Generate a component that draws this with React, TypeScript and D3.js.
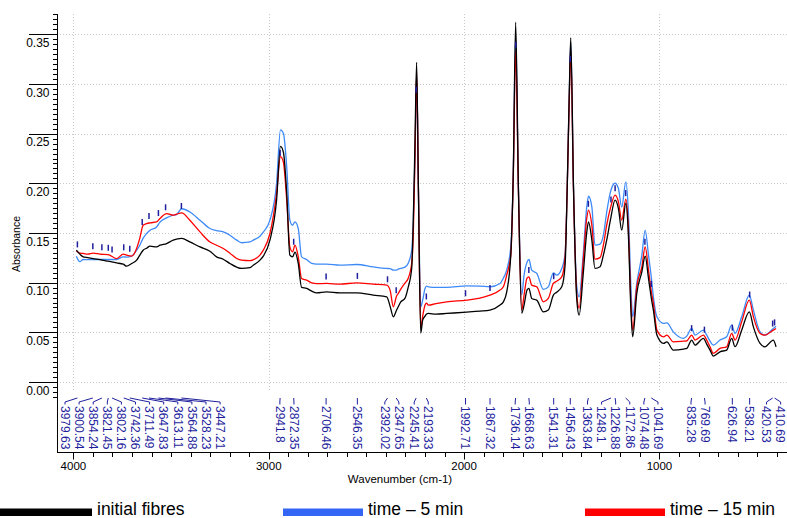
import React from 'react';
import * as d3 from 'd3';

// ---- data (wavenumber in cm-1, absorbance) ----
const wavenumbers = [
  3985, 3967, 3950, 3926, 3899, 3864, 3823, 3779, 3745, 3728,
  3702, 3676, 3660, 3643, 3625, 3608, 3574, 3557, 3523, 3489,
  3472, 3446, 3404, 3352, 3301, 3267, 3233, 3199, 3164, 3139,
  3096, 3079, 3045, 3028, 2994, 2960, 2940, 2925, 2908, 2892,
  2878, 2866, 2849, 2832, 2806, 2780, 2755, 2704, 2636, 2550,
  2465, 2396, 2379, 2362, 2346, 2337, 2325, 2303, 2286, 2268,
  2260, 2251, 2243, 2234, 2222, 2212, 2200, 2192, 2183, 2144,
  2089, 1987, 1919, 1868, 1816, 1799, 1782, 1761, 1748, 1736,
  1722, 1705, 1693, 1678, 1668, 1654, 1628, 1594, 1569, 1543,
  1526, 1500, 1483, 1472, 1461, 1454, 1440, 1423, 1411, 1390,
  1372, 1363, 1346, 1330, 1304, 1287, 1270, 1251, 1227, 1210,
  1193, 1172, 1159, 1146, 1137, 1116, 1090, 1073, 1056, 1040,
  1031, 1013, 979, 962, 929, 877, 860, 835, 818, 775,
  758, 741, 724, 690, 656, 630, 613, 579, 540, 519, 485, 460,
  417, 403,
];

const initialFibres = [
  0.1327, 0.1287, 0.1260, 0.1252, 0.1241, 0.1233, 0.1216, 0.1199, 0.1186, 0.1166,
  0.1193, 0.1226, 0.1277, 0.1327, 0.1347, 0.1367, 0.1360, 0.1377, 0.1394, 0.1428,
  0.1438, 0.1445, 0.1410, 0.1360, 0.1317, 0.1260, 0.1236, 0.1193, 0.1156, 0.1143,
  0.1151, 0.1176, 0.1227, 0.1267, 0.1428, 0.1830, 0.2373, 0.2313, 0.1897, 0.1277,
  0.1260, 0.1307, 0.1193, 0.0952, 0.0942, 0.0914, 0.0897, 0.0907, 0.0897, 0.0897,
  0.0874, 0.0857, 0.0764, 0.0656, 0.0723, 0.0757, 0.0804, 0.0841, 0.0955, 0.1150,
  0.1629, 0.2467, 0.3218, 0.1964, 0.0492, 0.0623, 0.0663, 0.0684, 0.0690, 0.0683,
  0.0690, 0.0703, 0.0713, 0.0723, 0.0774, 0.0807, 0.0904, 0.1277, 0.2132, 0.3621,
  0.1964, 0.0693, 0.0774, 0.0925, 0.0942, 0.0841, 0.0824, 0.0706, 0.0724, 0.0874,
  0.0904, 0.0958, 0.1176, 0.1964, 0.2970, 0.3465, 0.1964, 0.0824, 0.0673, 0.1093,
  0.1508, 0.1612, 0.1428, 0.1143, 0.1160, 0.1277, 0.1428, 0.1629, 0.1830, 0.1746,
  0.1528, 0.1800, 0.1478, 0.0723, 0.0455, 0.0891, 0.1109, 0.1267, 0.1042, 0.0824,
  0.0723, 0.0472, 0.0388, 0.0404, 0.0321, 0.0331, 0.0338, 0.0422, 0.0371, 0.0439,
  0.0381, 0.0321, 0.0261, 0.0304, 0.0321, 0.0439, 0.0355, 0.0522, 0.0706, 0.0555, 0.0388, 0.0354,
  0.0422, 0.0354,
];

const time5min = [
  0.1267, 0.1211, 0.1233, 0.1231, 0.1233, 0.1233, 0.1233, 0.1233, 0.1260, 0.1257,
  0.1267, 0.1327, 0.1377, 0.1448, 0.1495, 0.1528, 0.1561, 0.1609, 0.1652, 0.1679,
  0.1686, 0.1744, 0.1712, 0.1629, 0.1545, 0.1523, 0.1511, 0.1478, 0.1428, 0.1402,
  0.1410, 0.1428, 0.1468, 0.1509, 0.1629, 0.1998, 0.2539, 0.2504, 0.2165, 0.1629,
  0.1578, 0.1612, 0.1545, 0.1260, 0.1233, 0.1193, 0.1186, 0.1186, 0.1176, 0.1183,
  0.1159, 0.1143, 0.1141, 0.1126, 0.1126, 0.1136, 0.1143, 0.1156, 0.1196, 0.1330,
  0.1629, 0.2300, 0.3098, 0.1964, 0.0757, 0.0824, 0.0942, 0.0965, 0.0958, 0.0952,
  0.0952, 0.0968, 0.0965, 0.0958, 0.0992, 0.1045, 0.1126, 0.1360, 0.2132, 0.3490,
  0.1964, 0.0875, 0.1076, 0.1206, 0.1233, 0.1126, 0.1093, 0.0932, 0.0958, 0.1099,
  0.1076, 0.1143, 0.1294, 0.1964, 0.2937, 0.3420, 0.1964, 0.0958, 0.0857, 0.1294,
  0.1763, 0.1870, 0.1763, 0.1377, 0.1387, 0.1478, 0.1709, 0.1911, 0.2001, 0.1948,
  0.1760, 0.2014, 0.1709, 0.0958, 0.0656, 0.0995, 0.1277, 0.1528, 0.1277, 0.1025,
  0.0857, 0.0656, 0.0590, 0.0596, 0.0505, 0.0439, 0.0462, 0.0539, 0.0472, 0.0522,
  0.0472, 0.0411, 0.0371, 0.0422, 0.0455, 0.0572, 0.0489, 0.0656, 0.0874, 0.0723, 0.0505, 0.0472,
  0.0539, 0.0562,
];

const time15min = [
  0.1322, 0.1297, 0.1294, 0.1287, 0.1297, 0.1287, 0.1282, 0.1243, 0.1287, 0.1277,
  0.1267, 0.1347, 0.1448, 0.1578, 0.1594, 0.1602, 0.1612, 0.1646, 0.1696, 0.1679,
  0.1689, 0.1702, 0.1629, 0.1511, 0.1410, 0.1377, 0.1344, 0.1297, 0.1243, 0.1226,
  0.1221, 0.1231, 0.1277, 0.1327, 0.1495, 0.1897, 0.2268, 0.2212, 0.1830, 0.1360,
  0.1310, 0.1377, 0.1260, 0.1042, 0.1025, 0.0998, 0.0990, 0.0992, 0.0985, 0.0998,
  0.0985, 0.0975, 0.0925, 0.0757, 0.0864, 0.0891, 0.0932, 0.0995, 0.1045, 0.1200,
  0.1495, 0.2300, 0.3118, 0.1964, 0.0543, 0.0663, 0.0774, 0.0794, 0.0774, 0.0789,
  0.0807, 0.0824, 0.0844, 0.0874, 0.0925, 0.0958, 0.1075, 0.1277, 0.2082, 0.3339,
  0.1931, 0.0724, 0.0875, 0.1045, 0.1058, 0.0975, 0.0958, 0.0807, 0.0841, 0.0992,
  0.1015, 0.1058, 0.1260, 0.1964, 0.2886, 0.3339, 0.1931, 0.0875, 0.0744, 0.1226,
  0.1649, 0.1731, 0.1579, 0.1236, 0.1252, 0.1377, 0.1579, 0.1750, 0.1881, 0.1813,
  0.1629, 0.1840, 0.1548, 0.0791, 0.0522, 0.0958, 0.1159, 0.1360, 0.1126, 0.0891,
  0.0794, 0.0522, 0.0455, 0.0472, 0.0404, 0.0411, 0.0414, 0.0472, 0.0422, 0.0472,
  0.0422, 0.0354, 0.0288, 0.0338, 0.0354, 0.0489, 0.0422, 0.0606, 0.0824, 0.0656, 0.0489, 0.0472,
  0.0522, 0.0539,
];

const peakLabels = [
  3979.63, 3900.54, 3854.24, 3821.45, 3802.16, 3742.36, 3711.49, 3647.83, 3613.11,
  3564.88, 3528.23, 3447.21, 2941.8, 2872.35, 2706.46, 2546.35, 2392.02, 2347.65,
  2245.41, 2193.33, 1992.71, 1867.32, 1736.14, 1668.63, 1541.31, 1456.43, 1363.84,
  1248.1, 1226.88, 1172.86, 1074.48, 1041.69, 835.28, 769.69, 626.94, 538.21,
  420.53, 410.69,
];

const yTicks = [0, 0.05, 0.1, 0.15, 0.2, 0.25, 0.3, 0.35];
const xTicks = [4000, 3000, 2000, 1000];
const seriesNames = ['initial fibres', 'time – 5 min', 'time – 15 min'];

// ---- style ----
const W = 787;
const H = 518;
const FONT = "'Liberation Sans', Arial, Helvetica, sans-serif";
const NAVY = '#1f1f9e';
const LINE_COLORS = ['#000000', '#3d8af7', '#ff0000'];
const LEGEND_COLORS = ['#000000', '#3366f5', '#ff0000'];

function interp(w: number, vals: number[]) {
  for (let i = 0; i < wavenumbers.length - 1; i++) {
    const a = wavenumbers[i];
    const b = wavenumbers[i + 1];
    if (w <= a && w >= b) {
      const t = (a - w) / (a - b);
      return vals[i] + t * (vals[i + 1] - vals[i]);
    }
  }
  return vals[vals.length - 1];
}

function layoutLabels(xs: number[], gap: number, minX: number, maxX: number) {
  type C = { sum: number; n: number; start: number };
  const clusters: C[] = [];
  const clampStart = (c: C) => {
    let s = c.sum / c.n;
    s = Math.max(minX, Math.min(maxX - (c.n - 1) * gap, s));
    c.start = s;
  };
  xs.forEach((xv) => {
    const c: C = { sum: xv, n: 1, start: xv };
    clampStart(c);
    clusters.push(c);
    while (clusters.length > 1) {
      const last = clusters[clusters.length - 1];
      const prev = clusters[clusters.length - 2];
      const prevEnd = prev.start + (prev.n - 1) * gap;
      if (last.start - prevEnd < gap) {
        prev.sum = prev.sum + last.sum - last.n * prev.n * gap;
        prev.n = prev.n + last.n;
        clampStart(prev);
        clusters.pop();
      } else break;
    }
  });
  const out: number[] = [];
  clusters.forEach((c) => {
    for (let k = 0; k < c.n; k++) out.push(c.start + k * gap);
  });
  return out;
}

export default function App() {
  const x = d3.scaleLinear().domain([4084, 347]).range([57, 787]);
  const y = d3.scaleLinear().domain([-0.0705, 0.3705]).range([452, 14]);

  const line = d3
    .line<number>()
    .x((_, i) => x(wavenumbers[i]))
    .y((d) => y(d))
    .curve(d3.curveMonotoneX);

  const series = [initialFibres, time5min, time15min];
  const drawOrder = [1, 2, 0];

  const minorY = d3.range(-3, 75).map((i) => +(i * 0.005).toFixed(3));
  const minorX = d3.range(4000, 399, -100);

  const trueX = peakLabels.map((w) => x(w));
  const labelX = layoutLabels(trueX, 14.1, 65, 783);

  const fmtY = d3.format('.2f');

  return (
    <div style={{ position: 'absolute', left: 0, top: 0 }}>
      <svg width={W} height={H} style={{ display: 'block', background: '#fff' }} fontFamily={FONT}>
        {/* grid */}
        <g stroke="#c8c8c8" strokeWidth={1} strokeDasharray="1,2">
          {yTicks.map((t) => (
            <line key={'gy' + t} x1={57} x2={W} y1={Math.round(y(t)) + 0.5} y2={Math.round(y(t)) + 0.5} />
          ))}
          {xTicks.map((t) => (
            <line key={'gx' + t} x1={Math.round(x(t)) + 0.5} x2={Math.round(x(t)) + 0.5} y1={14} y2={392} />
          ))}
        </g>

        {/* spectra */}
        <g fill="none" strokeWidth={1.3} strokeLinejoin="round">
          {drawOrder.map((si) => (
            <path key={'s' + si} d={line(series[si]) || ''} stroke={LINE_COLORS[si]} />
          ))}
        </g>

        {/* peak markers */}
        <g stroke={NAVY} strokeWidth={1.5}>
          {peakLabels.map((w, i) => {
            const py = y(interp(w, time15min));
            return <line key={'m' + i} x1={trueX[i]} x2={trueX[i]} y1={py - 10} y2={py - 4} />;
          })}
        </g>

        {/* peak labels */}
        <g>
          {peakLabels.map((w, i) => (
            <g key={'l' + i}>
              <path
                d={`M${trueX[i]},398 L${labelX[i]},402 L${labelX[i]},404.5`}
                fill="none"
                stroke={NAVY}
                strokeWidth={1}
              />
              <text
                transform={`translate(${labelX[i]},406) rotate(90)`}
                dy="0.35em"
                fontSize={12}
                fill={NAVY}
              >
                {String(w)}
              </text>
            </g>
          ))}
        </g>

        {/* y axis */}
        <g stroke="#000" strokeWidth={1}>
          <line x1={57.5} x2={57.5} y1={14} y2={452} />
          {minorY.map((t) => (
            <line key={'my' + t} x1={53} x2={57.5} y1={Math.round(y(t)) + 0.5} y2={Math.round(y(t)) + 0.5} />
          ))}
          {yTicks.map((t) => (
            <line key={'My' + t} x1={29} x2={57.5} y1={Math.round(y(t)) + 0.5} y2={Math.round(y(t)) + 0.5} />
          ))}
        </g>
        <g fontSize={12} fill="#000" textAnchor="end">
          {yTicks.map((t) => (
            <text key={'ty' + t} x={49.5} y={y(t) + 12.7}>
              {fmtY(t)}
            </text>
          ))}
        </g>
        <text transform="translate(19.5,244) rotate(-90)" textAnchor="middle" fontSize={10.5} fill="#000">
          Absorbance
        </text>

        {/* x axis */}
        <g stroke="#000" strokeWidth={1}>
          <line x1={57} x2={W} y1={452.5} y2={452.5} />
          {minorX.map((t) => (
            <line key={'mx' + t} x1={Math.round(x(t)) + 0.5} x2={Math.round(x(t)) + 0.5} y1={452.5} y2={457} />
          ))}
          {xTicks.map((t) => (
            <line key={'Mx' + t} x1={Math.round(x(t)) + 0.5} x2={Math.round(x(t)) + 0.5} y1={452.5} y2={459.5} />
          ))}
        </g>
        <g fontSize={11.5} fill="#000" textAnchor="middle">
          {xTicks.map((t) => (
            <text key={'tx' + t} x={x(t)} y={469.5}>
              {String(t)}
            </text>
          ))}
        </g>
        <text x={400} y={482.5} textAnchor="middle" fontSize={11.5} fill="#000">
          Wavenumber (cm-1)
        </text>

        {/* legend */}
        {seriesNames.map((name, i) => {
          const bx = [0, 283, 585][i];
          const bw = [92, 80, 80][i];
          return (
            <g key={'lg' + i}>
              <rect x={bx} y={508.5} width={bw} height={7.5} fill={LEGEND_COLORS[i]} />
              <text x={bx + bw + 5} y={515} fontSize={17.5} fill="#000">
                {name}
              </text>
            </g>
          );
        })}
      </svg>
    </div>
  );
}
